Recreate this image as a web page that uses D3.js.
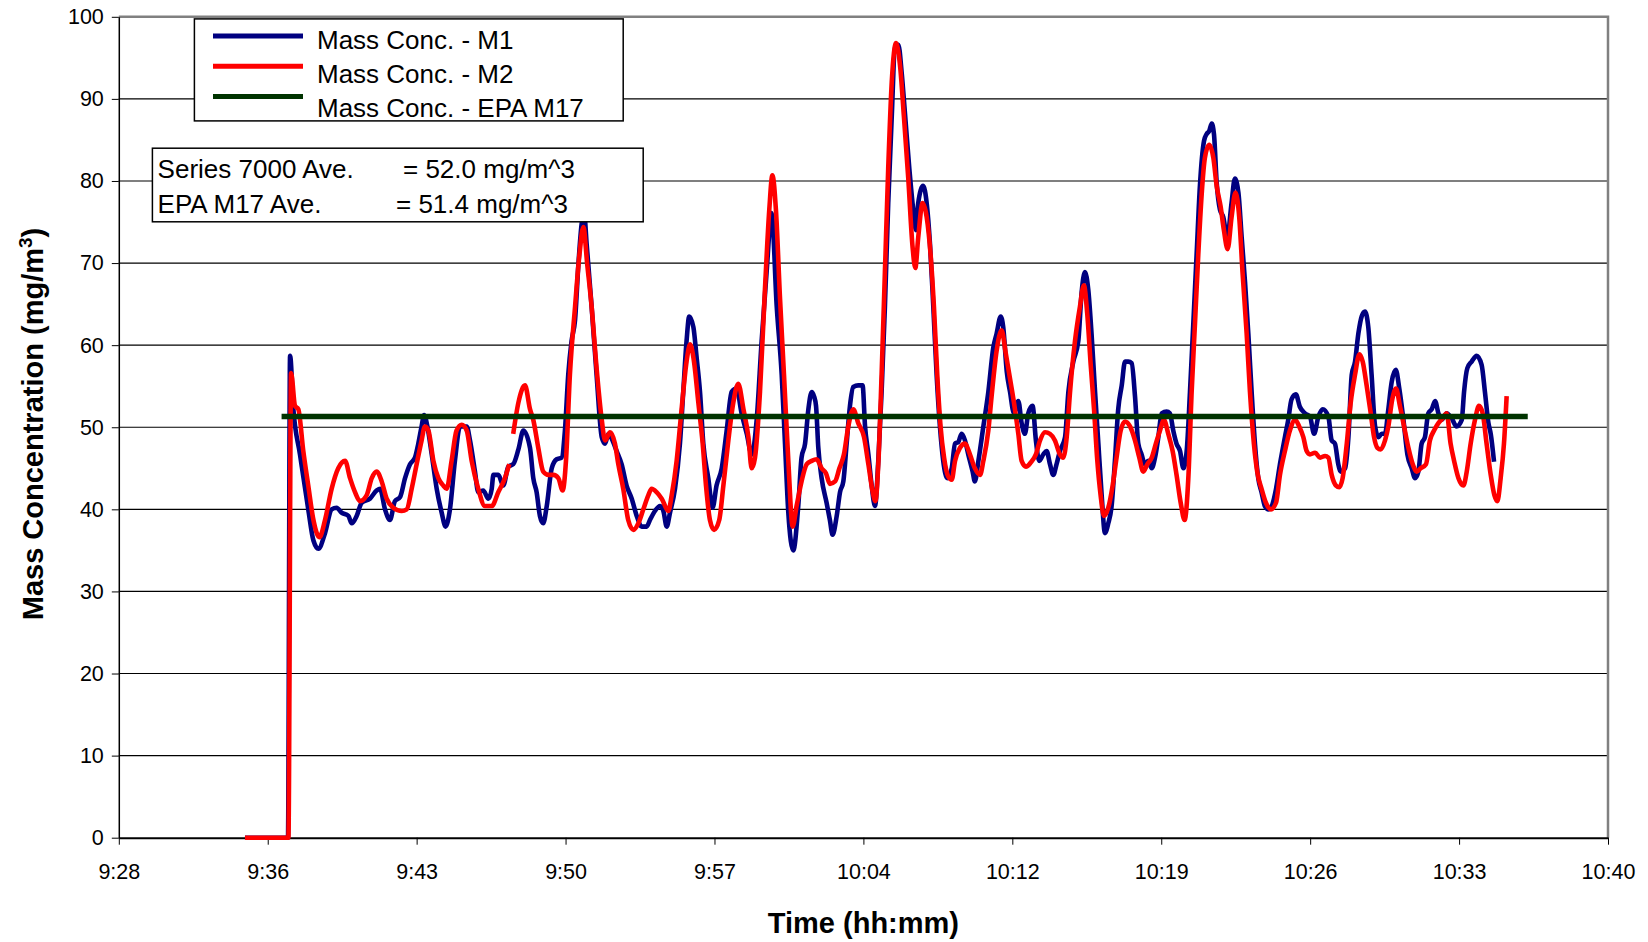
<!DOCTYPE html>
<html>
<head>
<meta charset="utf-8">
<script src="https://cdn.jsdelivr.net/npm/d3@7/dist/d3.min.js"></script>
<style>
body { margin: 0; background: #fff; }
svg text { font-family: "Liberation Sans", Arial, sans-serif; fill: #000; }
</style>
</head>
<body>
<div class="graphbox"></div>
<script>
// times are minutes after 9:00
var m1Time = [34.9,36.0,36.98,37.08,37.24,37.56,37.96,38.21,38.45,38.77,39.09,39.33,39.57,39.90,40.06,40.30,40.54,40.94,41.27,41.43,41.67,41.91,42.15,42.40,42.64,42.88,43.12,43.28,43.44,43.56,43.72,43.93,44.17,44.41,44.60,44.81,45.05,45.30,45.62,45.78,46.02,46.18,46.42,46.67,46.83,46.91,47.15,47.39,47.63,47.87,48.12,48.36,48.68,48.84,49.00,49.16,49.32,49.49,49.73,49.97,50.21,50.37,50.53,50.69,50.86,51.02,51.18,51.30,51.42,51.66,51.90,52.15,52.31,52.47,52.63,52.87,53.11,53.35,53.60,53.84,54.08,54.32,54.48,54.72,54.97,55.13,55.29,55.45,55.69,55.93,56.09,56.25,56.38,56.58,56.74,56.90,57.06,57.30,57.51,57.70,57.95,58.19,58.43,58.67,58.91,59.16,59.40,59.64,59.88,60.12,60.36,60.61,60.85,61.01,61.17,61.41,61.65,61.81,61.98,62.14,62.30,62.41,62.51,62.62,62.78,63.02,63.18,63.31,63.51,63.67,63.83,63.99,64.15,64.31,64.55,64.76,64.88,65.04,65.20,65.36,65.52,65.68,65.84,66.00,66.17,66.33,66.49,66.65,66.81,67.02,67.21,67.34,67.45,67.69,67.86,68.02,68.18,68.34,68.50,68.66,68.86,69.07,69.23,69.39,69.55,69.71,69.87,70.08,70.19,70.36,70.60,70.84,71.08,71.24,71.44,71.56,71.73,71.89,72.08,72.29,72.45,72.61,72.77,72.98,73.14,73.30,73.50,73.66,73.82,73.98,74.14,74.30,74.55,74.71,74.95,75.19,75.35,75.51,75.67,75.83,76.00,76.16,76.32,76.48,76.64,76.80,76.96,77.12,77.29,77.45,77.61,77.77,77.93,78.09,78.25,78.41,78.57,78.74,78.90,79.06,79.22,79.46,79.62,79.78,79.94,80.11,80.27,80.43,80.59,80.75,80.91,81.07,81.27,81.39,81.52,81.64,81.75,81.88,82.04,82.20,82.39,82.60,82.76,82.93,83.09,83.25,83.41,83.57,83.73,83.89,84.05,84.21,84.38,84.54,84.75,84.94,85.18,85.34,85.50,85.71,85.90,86.15,86.39,86.59,86.80,87.01,87.28,87.44,87.60,87.76,87.88,88.09,88.25,88.41,88.57,88.73,88.89,89.05,89.21,89.37,89.54,89.70,89.86,90.02,90.18,90.34,90.54,90.71,90.91,91.10,91.31,91.47,91.63,91.79,91.95,92.11,92.28,92.44,92.60,92.76,93.00,93.24,93.48,93.73,93.84,94.00,94.21,94.45,94.69,94.85,95.02,95.13,95.29]
var m1Conc = [0,0,0,58.7,52.2,46.7,40.0,36.2,35.2,37.1,40.0,40.2,39.6,39.2,38.3,39.2,40.8,41.3,42.3,42.5,40.0,38.7,41.0,41.5,43.8,45.5,46.3,48.0,50.1,51.5,50.1,46.7,42.5,39.6,37.9,40.0,45.9,50.1,50.1,48.4,44.6,42.1,42.3,41.3,42.5,44.2,44.2,42.9,45.2,45.5,47.3,49.6,47.5,43.8,42.1,39.2,38.3,40.4,45.0,46.1,46.3,49.6,56.4,60.5,63.1,69.8,74.8,76.0,72.3,64.7,56.4,48.8,48.0,49.2,48.6,47.1,45.5,42.9,41.3,39.2,37.9,37.9,38.7,39.8,40.4,39.8,37.9,39.6,42.5,48.0,54.3,60.5,63.5,62.2,58.4,54.3,48.0,43.8,40.2,42.9,45.0,49.6,54.3,54.7,51.7,49.2,46.7,50.9,60.5,68.9,76.1,64.7,56.4,48.0,39.6,35.0,40.4,46.3,48.0,52.2,54.3,53.8,52.6,47.5,43.8,40.8,38.7,36.9,39.2,42.1,43.4,48.0,52.6,54.9,55.1,55.1,50.1,46.7,42.9,40.4,45.9,54.3,64.7,77.3,87.8,96.4,96.6,93.2,88.2,81.5,76.5,74.0,77.3,79.4,77.3,72.3,64.7,56.4,50.1,45.9,43.8,45.0,48.0,48.2,49.2,48.4,46.7,44.6,43.4,45.9,50.1,54.3,59.7,61.4,63.5,62.2,56.8,54.3,51.7,53.2,50.5,49.2,51.7,52.6,48.4,45.9,46.7,47.1,45.5,44.2,45.5,47.1,48.8,54.3,58.0,60.5,66.4,68.9,66.8,61.4,54.3,48.0,41.7,37.1,38.3,40.4,45.9,52.2,55.1,58.0,58.0,57.8,53.8,48.0,46.7,45.5,45.9,45.0,46.3,48.8,51.7,51.9,51.7,49.6,48.0,47.1,45.0,47.1,54.3,62.6,71.0,79.4,84.9,85.7,86.1,87.0,85.7,79.8,76.5,75.6,73.1,77.3,80.3,78.6,73.1,67.7,61.4,54.3,48.0,43.8,42.1,40.4,40.0,40.4,42.5,45.5,48.8,50.9,53.4,54.0,52.5,51.7,51.3,49.2,51.3,52.2,51.3,48.4,48.0,45.5,44.6,45.0,48.8,56.4,58.0,61.4,63.5,64.1,62.2,56.4,50.1,48.8,49.2,49.2,52.2,55.5,57.0,54.7,50.9,46.7,45.0,43.8,44.6,48.0,48.8,51.7,52.2,53.2,51.7,50.9,51.7,51.1,50.1,50.9,54.3,57.2,58.0,58.7,57.6,54.3,50.5,49.2,45.8]

var m2Time = [34.9,36.0,37.0,37.13,37.32,37.48,37.72,37.96,38.21,38.50,38.77,39.09,39.41,39.74,39.98,40.22,40.46,40.78,41.03,41.27,41.51,41.75,42.07,42.48,42.72,42.96,43.20,43.44,43.60,43.77,44.01,44.25,44.49,44.65,44.89,45.13,45.38,45.62,45.86,46.18,46.50,46.83,47.15,47.47,47.68,47.76,47.87,48.12,48.44,48.68,48.84,49.08,49.32,49.57,49.81,50.05,50.26,50.42,50.61,50.86,51.07,51.26,51.45,51.66,51.90,52.15,52.31,52.55,52.79,52.95,53.19,53.43,53.68,53.92,54.16,54.40,54.56,54.80,55.05,55.37,55.53,55.77,56.01,56.25,56.42,56.61,56.82,57.03,57.19,57.38,57.58,57.83,58.03,58.27,58.51,58.75,59.00,59.24,59.40,59.56,59.80,60.04,60.25,60.40,60.57,60.77,60.96,61.17,61.38,61.57,61.81,62.06,62.30,62.54,62.78,62.99,63.18,63.43,63.64,63.86,64.07,64.31,64.55,64.83,65.04,65.25,65.38,65.52,65.68,65.84,66.00,66.17,66.38,66.57,66.76,66.97,67.18,67.31,67.45,67.66,67.86,68.05,68.21,68.37,68.53,68.70,68.90,69.07,69.23,69.47,69.71,69.95,70.19,70.44,70.60,70.84,71.00,71.24,71.48,71.69,71.89,72.08,72.29,72.45,72.66,72.89,73.14,73.34,73.58,73.82,74.06,74.30,74.46,74.63,74.79,75.03,75.27,75.46,75.62,75.79,75.95,76.11,76.27,76.43,76.64,76.85,77.04,77.24,77.45,77.69,77.93,78.14,78.33,78.53,78.74,78.94,79.14,79.33,79.54,79.75,79.94,80.14,80.33,80.51,80.67,80.83,80.99,81.15,81.31,81.52,81.72,81.88,82.07,82.23,82.41,82.60,82.79,82.97,83.13,83.33,83.49,83.68,83.84,84.05,84.26,84.50,84.75,84.94,85.18,85.42,85.67,85.87,86.07,86.23,86.39,86.64,86.88,87.12,87.28,87.44,87.65,87.81,87.97,88.17,88.36,88.57,88.78,88.94,89.13,89.33,89.49,89.65,89.81,90.02,90.18,90.37,90.55,90.74,90.94,91.15,91.36,91.55,91.74,92.00,92.19,92.39,92.60,92.81,93.00,93.19,93.36,93.57,93.81,93.97,94.16,94.37,94.56,94.74,94.93,95.13,95.31,95.45,95.61,95.77,95.90]
var m2Conc = [0,0,0,56.6,52.6,52.2,47.1,42.9,38.7,36.6,38.7,42.5,45.0,45.9,43.8,42.1,41.0,41.7,43.8,44.6,43.4,41.3,40.2,39.8,40.0,42.5,45.5,48.4,50.1,49.6,45.9,43.8,42.9,42.5,45.9,49.6,50.3,49.6,45.9,42.5,40.4,40.4,42.1,43.8,45.5,null,49.2,53.0,55.1,52.2,50.9,47.5,44.6,44.2,44.2,43.8,42.3,45.9,56.4,64.7,71.0,74.4,69.8,64.7,57.2,50.9,48.4,49.4,48.0,45.5,42.5,38.7,37.5,38.3,40.0,41.7,42.5,42.1,41.3,39.8,41.7,45.9,52.2,58.0,60.1,58.0,53.0,48.0,42.9,38.7,37.5,38.7,42.9,48.4,53.0,55.3,52.2,48.8,45.0,46.3,54.3,66.8,76.5,80.7,76.5,65.6,56.4,45.9,37.9,40.4,43.4,45.5,45.9,46.1,45.0,44.4,43.1,43.4,45.0,46.7,50.1,52.2,50.5,48.8,45.5,42.1,41.0,45.5,56.4,68.9,81.5,92.0,96.8,94.1,87.8,80.3,71.9,69.4,73.1,77.3,75.6,71.0,64.7,56.4,50.1,46.3,44.0,43.6,45.9,47.5,48.0,46.7,45.0,44.2,45.9,49.6,53.8,59.3,61.8,58.9,55.9,53.0,49.2,45.9,45.2,45.7,46.7,48.4,49.4,49.2,48.4,46.7,46.3,48.8,54.3,60.5,64.7,67.3,63.9,57.6,52.2,45.9,41.7,39.2,40.2,42.9,46.3,49.6,50.7,50.1,48.4,46.3,44.6,45.5,46.3,48.0,49.6,50.9,49.2,47.1,44.2,40.8,38.7,43.8,54.3,62.6,71.0,78.2,82.8,84.4,82.8,79.4,76.9,74.0,71.7,75.6,78.6,75.6,68.9,61.4,54.3,48.0,44.6,42.5,40.8,40.0,40.8,44.2,47.1,49.6,50.9,50.1,48.8,47.1,46.7,46.9,46.3,46.5,46.3,44.2,42.9,42.7,43.8,48.0,53.0,56.4,58.9,58.0,55.1,51.7,48.8,47.5,47.3,48.4,50.1,53.4,54.7,52.6,50.1,47.5,45.5,44.6,45.0,45.5,48.4,49.6,50.5,51.1,51.7,48.0,45.9,43.8,42.9,44.6,48.0,50.9,52.6,51.7,48.0,44.2,41.7,41.0,43.8,48.0,53.8]

var epaTime = [36.67, 96.92]
var epaConc = [51.3, 51.3]

var yTicks = [0,10,20,30,40,50,60,70,80,90,100]
var xTickLabels = ["9:28","9:36","9:43","9:50","9:57","10:04","10:12","10:19","10:26","10:33","10:40"]
var statLabels = ["Series 7000 Ave.", "EPA M17 Ave."]
var statValues = ["= 52.0 mg/m^3", "= 51.4 mg/m^3"]

var svgWidth = 1648;
var svgHeight = 942;
var plotLeft = 118.8, plotRight = 1608, plotTop = 16.8, plotBottom = 837.7;

var x = d3.scaleLinear().domain([28.8, 100.8]).range([plotLeft, plotRight]);
var y = d3.scaleLinear().domain([0, 100]).range([plotBottom, plotTop]);
var xTickVals = xTickLabels.map(function(d, i) { return 28.8 + i * 7.2; });

var zip = function(t, v) { return t.map(function(d, i) { return {t: d, v: v[i]}; }); };

var series = [
  {name: "Mass Conc. - M1", color: "#000080", width: 4.6, data: zip(m1Time, m1Conc)},
  {name: "Mass Conc. - M2", color: "#ff0000", width: 4.6, data: zip(m2Time, m2Conc)},
  {name: "Mass Conc. - EPA M17", color: "#003300", width: 5.5, data: zip(epaTime, epaConc)}
];

var mysvg = d3.select(".graphbox")
  .append("svg")
  .attr("width", svgWidth)
  .attr("height", svgHeight)
  .style("display", "block")
  .style("background", "#fff");

// gridlines
mysvg.append("g")
  .selectAll("line")
  .data(yTicks.filter(function(d) { return d > 0 && d < 100; }))
  .enter()
  .append("line")
  .attr("x1", plotLeft).attr("x2", plotRight)
  .attr("y1", function(d) { return y(d); })
  .attr("y2", function(d) { return y(d); })
  .attr("stroke", "#000")
  .attr("stroke-width", 1.2);

// plot frame top / right
mysvg.append("path")
  .attr("d", "M" + plotLeft + "," + y(100) + "H" + plotRight + "V" + plotBottom)
  .attr("fill", "none")
  .attr("stroke", "#808080")
  .attr("stroke-width", 2.5);

// axes
var yAxis = mysvg.append("g")
  .attr("transform", "translate(" + plotLeft + ",0)")
  .call(d3.axisLeft(y).tickValues(yTicks).tickSize(7).tickPadding(8).tickSizeOuter(0));
yAxis.selectAll("text").style("font-size", "21.5px").style("font-family", "'Liberation Sans', Arial, sans-serif");
yAxis.select(".domain").attr("stroke-width", 1.5);

var xAxis = mysvg.append("g")
  .attr("transform", "translate(0," + plotBottom + ")")
  .call(d3.axisBottom(x).tickValues(xTickVals)
    .tickFormat(function(d, i) { return xTickLabels[i]; })
    .tickSize(7).tickPadding(19).tickSizeOuter(0));
xAxis.selectAll("text").style("font-size", "21.5px").style("font-family", "'Liberation Sans', Arial, sans-serif");
xAxis.select(".domain").attr("stroke-width", 2);

// series lines
var line = d3.line()
  .defined(function(d) { return d.v != null; })
  .x(function(d) { return x(d.t); })
  .y(function(d) { return y(d.v); })
  .curve(d3.curveMonotoneX);

mysvg.append("g")
  .selectAll("path")
  .data(series)
  .enter()
  .append("path")
  .attr("d", function(d) { return line(d.data); })
  .attr("fill", "none")
  .attr("stroke", function(d) { return d.color; })
  .attr("stroke-width", function(d) { return d.width; })
  .attr("stroke-linejoin", "round")
  .attr("stroke-linecap", "butt");

// axis titles
mysvg.append("text")
  .attr("x", (plotLeft + plotRight) / 2)
  .attr("y", 933)
  .attr("text-anchor", "middle")
  .style("font-size", "29px")
  .style("font-weight", "bold")
  .text("Time (hh:mm)");

var ytitle = mysvg.append("text")
  .attr("transform", "translate(43,424) rotate(-90)")
  .attr("text-anchor", "middle")
  .style("font-size", "29px")
  .style("font-weight", "bold");
ytitle.append("tspan").text("Mass Concentration (mg/m");
ytitle.append("tspan").attr("dy", -11).style("font-size", "19px").text("3");
ytitle.append("tspan").attr("dy", 11).text(")");

// legend
var legend = mysvg.append("g");
legend.append("rect")
  .attr("x", 194.4).attr("y", 18.9)
  .attr("width", 428.8).attr("height", 102)
  .attr("fill", "#fff")
  .attr("stroke", "#000")
  .attr("stroke-width", 1.5);

var legRows = legend.selectAll(".leg")
  .data(series)
  .enter()
  .append("g")
  .attr("class", "leg");
legRows.append("line")
  .attr("x1", 213).attr("x2", 303)
  .attr("y1", function(d, i) { return 36 + i * 30.2; })
  .attr("y2", function(d, i) { return 36 + i * 30.2; })
  .attr("stroke", function(d) { return d.color; })
  .attr("stroke-width", 5);
legRows.append("text")
  .attr("x", 317)
  .attr("y", function(d, i) { return 49.3 + i * 34; })
  .style("font-size", "26px")
  .text(function(d) { return d.name; });

// averages box
var stats = mysvg.append("g");
stats.append("rect")
  .attr("x", 152.4).attr("y", 148.2)
  .attr("width", 490.8).attr("height", 73.6)
  .attr("fill", "#fff")
  .attr("stroke", "#000")
  .attr("stroke-width", 1.5);
stats.selectAll(".slab")
  .data(statLabels)
  .enter()
  .append("text")
  .attr("x", 157.6)
  .attr("y", function(d, i) { return 178 + i * 34.5; })
  .style("font-size", "26px")
  .text(function(d) { return d; });
stats.selectAll(".sval")
  .data(statValues)
  .enter()
  .append("text")
  .attr("x", function(d, i) { return i === 0 ? 403 : 396; })
  .attr("y", function(d, i) { return 178 + i * 34.5; })
  .style("font-size", "26px")
  .text(function(d) { return d; });
</script>
</body>
</html>
